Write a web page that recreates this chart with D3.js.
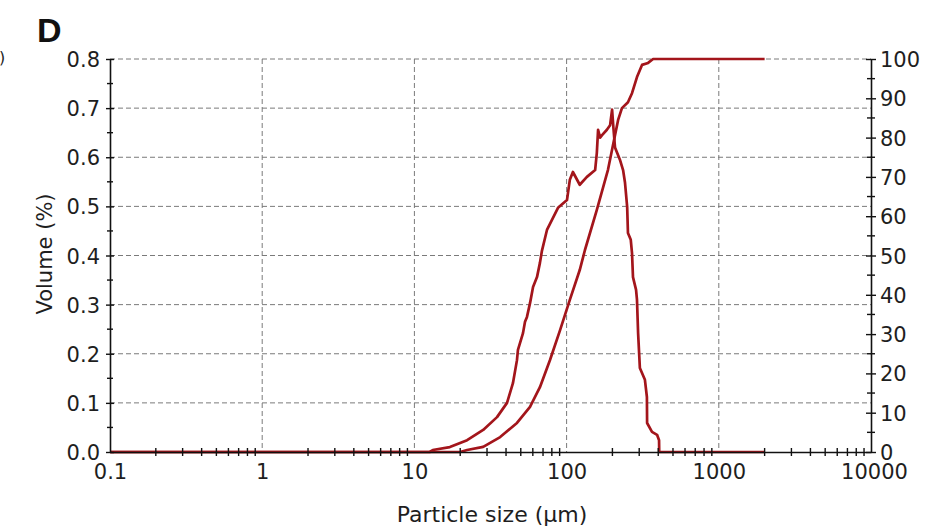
<!DOCTYPE html>
<html><head><meta charset="utf-8">
<script src="https://cdn.jsdelivr.net/npm/d3@7"></script>
<style>
body{margin:0;background:#fff;}
svg{display:block;font-family:"DejaVu Sans",sans-serif;}
</style></head>
<body>
<svg id="chart" width="925" height="526"></svg>
<script>
// Particle size (µm) and volume (%) of the frequency curve
const freqSize = [0.1, 12.6, 13.2, 17.1, 22.2, 28.3, 34.9, 40.6, 44.4, 47.2, 47.9, 51.7, 53.3, 54.9, 57.5, 60.2, 63.9, 66.8, 68.9, 74.3, 87.8, 100.6, 105, 110, 122, 136, 154, 158, 161, 166, 171, 184, 193, 199, 203, 208, 224, 235, 242, 250, 253, 264, 269, 273, 286, 290, 295, 303, 327, 337, 338, 364, 393, 405, 406, 2000];
const freqVol  = [0, 0, 0.004, 0.01, 0.024, 0.045, 0.071, 0.1, 0.14, 0.187, 0.208, 0.242, 0.265, 0.275, 0.303, 0.336, 0.356, 0.385, 0.41, 0.452, 0.497, 0.513, 0.554, 0.57, 0.544, 0.56, 0.574, 0.609, 0.656, 0.64, 0.645, 0.656, 0.665, 0.697, 0.66, 0.62, 0.595, 0.574, 0.548, 0.499, 0.446, 0.432, 0.405, 0.356, 0.33, 0.31, 0.242, 0.171, 0.147, 0.112, 0.059, 0.041, 0.035, 0.024, 0, 0];
// Cumulative volume (%) curve, right axis
const cumSize = [0.1, 20, 22.2, 28.3, 36.6, 47.2, 57.5, 66.8, 77.8, 90.6, 105, 122, 132, 158, 187, 218, 231, 253, 269, 290, 313, 343, 370, 2000];
const cumVol  = [0, 0, 0.5, 1.3, 3.8, 7.4, 11.5, 16.5, 23.4, 31, 38.7, 46.3, 51.4, 61.6, 71.8, 84.5, 87.5, 89, 91.3, 95.4, 98.5, 99, 100, 100];

const xTicks = [0.1, 1, 10, 100, 1000, 10000];
const xTickLabels = ["0.1", "1", "10", "100", "1000", "10000"];
const yLeftTicks = [0, 0.1, 0.2, 0.3, 0.4, 0.5, 0.6, 0.7, 0.8];
const yRightTicks = [0, 10, 20, 30, 40, 50, 60, 70, 80, 90, 100];

const L = 110, R = 871, T = 59, B = 452;
const svg = d3.select("#chart");
const x = d3.scaleLog().domain([0.1, 10000]).range([L, R]);
const yL = d3.scaleLinear().domain([0, 0.8]).range([B, T]);
const yR = d3.scaleLinear().domain([0, 100]).range([B, T]);
const lineColor = "#a3151b";
const textColor = "#1e1e1e";
const tickFont = "21px";

// minor x ticks
const xMinor = [];
xTicks.slice(0, -1).forEach(d => { for (let k = 2; k <= 9; k++) xMinor.push(d * k); });
const yLeftMinor = d3.range(0.05, 0.8, 0.1);
const yRightMinor = d3.range(5, 100, 10);

// grid
const grid = svg.append("g").attr("stroke", "#7a7a7a").attr("stroke-width", 1).attr("stroke-dasharray", "5,3");
grid.selectAll("line.h").data(yLeftTicks.slice(1)).join("line")
  .attr("x1", L).attr("x2", R).attr("y1", d => yL(d)).attr("y2", d => yL(d));
grid.selectAll("line.v").data(xTicks.slice(1, -1)).join("line")
  .attr("y1", T).attr("y2", B).attr("x1", d => x(d)).attr("x2", d => x(d));

// curves
const lineF = d3.line().x((d, i) => x(freqSize[i])).y(d => yL(d));
const lineC = d3.line().x((d, i) => x(cumSize[i])).y(d => yR(d));
svg.append("path").attr("d", lineC(cumVol)).attr("fill", "none").attr("stroke", lineColor).attr("stroke-width", 2.7).attr("stroke-linejoin", "round");
svg.append("path").attr("d", lineF(freqVol)).attr("fill", "none").attr("stroke", lineColor).attr("stroke-width", 2.7).attr("stroke-linejoin", "round");

function styleAxis(g) {
  g.attr("font-family", null);
  g.select(".domain").attr("stroke", "#111").attr("stroke-width", 1.6);
  g.selectAll(".tick line").attr("stroke", "#111").attr("stroke-width", 1.4);
  g.selectAll(".tick text").attr("fill", textColor).style("font-size", tickFont);
}

// left axis
const gl = svg.append("g").attr("transform", `translate(${L},0)`)
  .call(d3.axisLeft(yL).tickValues(yLeftTicks).tickFormat(d3.format(".1f")).tickSizeInner(4).tickSizeOuter(0).tickPadding(6));
styleAxis(gl);
gl.selectAll(".tick line").attr("x2", 4).attr("x1", -4);
gl.selectAll(".tick text").attr("dy", "0.36em");
svg.append("g").selectAll("line").data(yLeftMinor).join("line")
  .attr("x1", L - 3).attr("x2", L + 3).attr("y1", d => yL(d)).attr("y2", d => yL(d)).attr("stroke", "#111").attr("stroke-width", 1.4);

// right axis
const gr = svg.append("g").attr("transform", `translate(${R},0)`)
  .call(d3.axisRight(yR).tickValues(yRightTicks).tickFormat(d3.format("d")).tickSizeInner(5).tickSizeOuter(0).tickPadding(4));
styleAxis(gr);
gr.selectAll(".tick line").attr("x1", -5).attr("x2", 5);
gr.selectAll(".tick text").attr("dy", "0.36em");
svg.append("g").selectAll("line").data(yRightMinor).join("line")
  .attr("x1", R - 4).attr("x2", R + 4).attr("y1", d => yR(d)).attr("y2", d => yR(d)).attr("stroke", "#111").attr("stroke-width", 1.4);

// bottom axis
const gb = svg.append("g").attr("transform", `translate(0,${B})`)
  .call(d3.axisBottom(x).tickValues(xTicks).tickFormat((d, i) => xTickLabels[i]).tickSizeInner(0).tickSizeOuter(0).tickPadding(12));
styleAxis(gb);
gb.selectAll(".tick text").attr("dy", "0.71em");
gb.selectAll(".tick").filter(d => d === 10000).select("text").attr("dx", "3");
svg.append("g").selectAll("line").data(xMinor).join("line")
  .attr("x1", d => x(d)).attr("x2", d => x(d)).attr("y1", B - 4).attr("y2", B + 4).attr("stroke", "#111").attr("stroke-width", 1.4);

// titles
svg.append("text").attr("x", 492).attr("y", 522).attr("text-anchor", "middle")
  .attr("fill", textColor).style("font-size", "22px").text("Particle size (µm)");
svg.append("text").attr("transform", "translate(52,254) rotate(-90)").attr("text-anchor", "middle")
  .attr("fill", textColor).style("font-size", "21px").text("Volume (%)");
svg.append("text").attr("x", 37).attr("y", 42).attr("fill", "#111")
  .style("font-family", "'Liberation Sans',Arial,sans-serif")
  .style("font-size", "34px").style("font-weight", "bold").text("D");
svg.append("text").attr("x", -1).attr("y", 63).attr("fill", textColor)
  .style("font-size", "16px").text(")");
</script>
</body></html>
